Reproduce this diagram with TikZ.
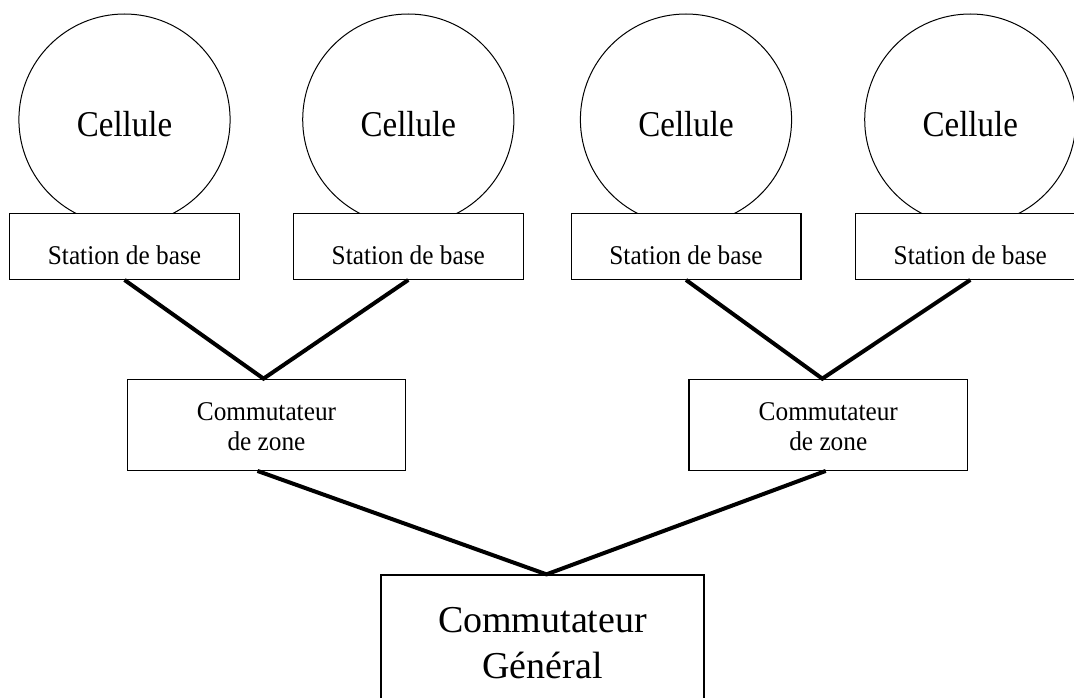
\documentclass[tikz,border=0pt]{standalone}
\usepackage{fontspec}
\setmainfont{Liberation Serif}
\newcommand{\tallcell}[1]{\scalebox{1}[1.1]{#1}}
\newcommand{\tallst}[1]{\scalebox{1}[1.07]{#1}}
\begin{document}
\begin{tikzpicture}[x=1pt, y=-1pt,
  cell/.style={circle, draw, line width=1pt, minimum size=211.2pt, inner sep=0pt},
  celltext/.style={anchor=base, inner sep=0pt, font=\fontsize{33}{40}\selectfont},
  stbox/.style={draw, fill=white, line width=1.3pt, minimum width=229.7pt, minimum height=66pt, inner sep=0pt},
  sttext/.style={anchor=base, inner sep=0pt, font=\fontsize{25.3}{30}\selectfont},
  zonebox/.style={draw, fill=white, line width=1.3pt, minimum width=278.4pt, minimum height=91pt, inner sep=0pt},
  zonetext/.style={align=center, inner sep=0pt, font=\fontsize{25.3}{30}\selectfont},
  genbox/.style={draw, fill=white, line width=1.3pt, minimum width=323pt, minimum height=160pt, inner sep=0pt},
  gentext/.style={align=center, inner sep=0pt, font=\fontsize{38}{46.7}\selectfont},
  link/.style={line width=4pt, line join=miter}
]
\useasboundingbox (0,0) rectangle (1074,698);
\clip (0,0) rectangle (1074,698);

% cells
\node[cell] (c1) at (124.5,119.6) {};
\node[cell] (c2) at (408.3,119.6) {};
\node[cell] (c3) at (686,119.6) {};
\node[cell] (c4) at (970.3,119.6) {};
\node[celltext] (c1t) at (124.5,137) {\tallcell{Cellule}};
\node[celltext] (c2t) at (408.3,137) {\tallcell{Cellule}};
\node[celltext] (c3t) at (686,137) {\tallcell{Cellule}};
\node[celltext] (c4t) at (970.3,137) {\tallcell{Cellule}};

% base stations
\node[stbox] (s1) at (124.5,246.3) {};
\node[stbox] (s2) at (408.3,246.3) {};
\node[stbox] (s3) at (686,246.3) {};
\node[stbox] (s4) at (970.3,246.3) {};
\node[sttext] (s1t) at (124.5,264.6) {\tallst{Station de base}};
\node[sttext] (s2t) at (408.3,264.6) {\tallst{Station de base}};
\node[sttext] (s3t) at (686,264.6) {\tallst{Station de base}};
\node[sttext] (s4t) at (970.3,264.6) {\tallst{Station de base}};

% zone switches
\node[zonebox] (z1) at (266.5,424.8) {};
\node[zonebox] (z2) at (828.3,424.8) {};
\node[zonetext] (z1t) at (266.5,426.5) {\tallst{Commutateur}\\\tallst{de zone}};
\node[zonetext] (z2t) at (828.3,426.5) {\tallst{Commutateur}\\\tallst{de zone}};

% general switch
\node[genbox] (g) at (542.5,655) {};
\node[gentext] (gt) at (542.5,643) {Commutateur\\Général};

% connectors
\draw[link] (s1.south) -- ([xshift=-3pt]z1.north) -- (s2.south);
\draw[link] (s3.south) -- ([xshift=-6pt]z2.north) -- (s4.south);
\draw[link] ([xshift=-9pt]z1.south) -- ([xshift=4pt]g.north) -- ([xshift=-2.6pt]z2.south);
\end{tikzpicture}
\end{document}
